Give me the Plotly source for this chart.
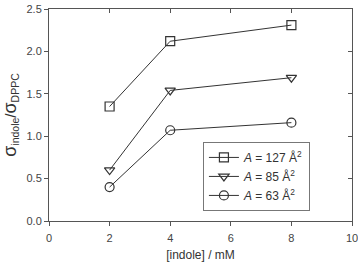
import plotly.graph_objects as go

indole = [2, 4, 8]
sig_127 = [1.35, 2.12, 2.31]
sig_85 = [0.60, 1.54, 1.69]
sig_63 = [0.40, 1.07, 1.16]
series_names = ["<i>A</i> = 127 Å<sup>2</sup>", "<i>A</i> = 85 Å<sup>2</sup>", "<i>A</i> = 63 Å<sup>2</sup>"]
symbols = ["square-open", "triangle-down-open", "circle-open"]

fig = go.Figure()
for ys, name, sym in zip([sig_127, sig_85, sig_63], series_names, symbols):
    fig.add_trace(go.Scatter(
        x=indole, y=ys, name=name, mode="lines+markers",
        line=dict(color="#333333", width=1),
        marker=dict(symbol=sym, size=9, color="#333333", line=dict(width=1.2, color="#333333")),
    ))
# invisible trace for mirrored (inside) ticks on top/right
fig.add_trace(go.Scatter(x=[0], y=[0], xaxis="x2", yaxis="y2", mode="markers",
                         marker=dict(opacity=0), showlegend=False, hoverinfo="skip"))

axcol = "#555555"
fig.update_layout(
    width=358, height=262,
    margin=dict(l=49, r=6, t=9, b=41, autoexpand=False),
    paper_bgcolor="white", plot_bgcolor="white",
    font=dict(family="Liberation Sans, Arial, sans-serif", size=11, color="#444444"),
    showlegend=True,
    legend=dict(x=0.508, y=0.373, xanchor="left", yanchor="top",
                bordercolor="#777777", borderwidth=1, bgcolor="white",
                font=dict(size=12, color="#333333"), tracegroupgap=0,
                itemwidth=30),
    xaxis=dict(range=[0, 10], tickvals=[0, 2, 4, 6, 8, 10], ticks="outside", ticklen=4,
               tickcolor=axcol, showline=True, linecolor=axcol, linewidth=1,
               showgrid=False, zeroline=False, ticklabeloverflow="allow",
               ticklabelstandoff=3, automargin=False,
               title=dict(text="[indole] / mM", font=dict(size=12, color="#333333"), standoff=10)),
    yaxis=dict(range=[0, 2.5], tickvals=[0, 0.5, 1.0, 1.5, 2.0, 2.5], tickformat=".1f",
               ticks="outside", ticklen=4, tickcolor=axcol, showline=True, linecolor=axcol,
               linewidth=1, showgrid=False, zeroline=False, automargin=False,
               title=dict(text="<span style='font-size:18px'>σ</span><sub>indole</sub>/"
                               "<span style='font-size:18px'>σ</span><sub>DPPC</sub>",
                          font=dict(size=15, color="#333333"), standoff=8)),
    xaxis2=dict(range=[0, 10], tickvals=[0, 2, 4, 6, 8, 10], overlaying="x", side="top",
                anchor="y2", ticks="inside", ticklen=4, tickcolor=axcol, showticklabels=False,
                showline=True, linecolor=axcol, linewidth=1, showgrid=False, zeroline=False),
    yaxis2=dict(range=[0, 2.5], tickvals=[0, 0.5, 1.0, 1.5, 2.0, 2.5], overlaying="y", side="right",
                anchor="x2", ticks="inside", ticklen=4, tickcolor=axcol, showticklabels=False,
                showline=True, linecolor=axcol, linewidth=1, showgrid=False, zeroline=False),
)

fig.write_html("out.html")
